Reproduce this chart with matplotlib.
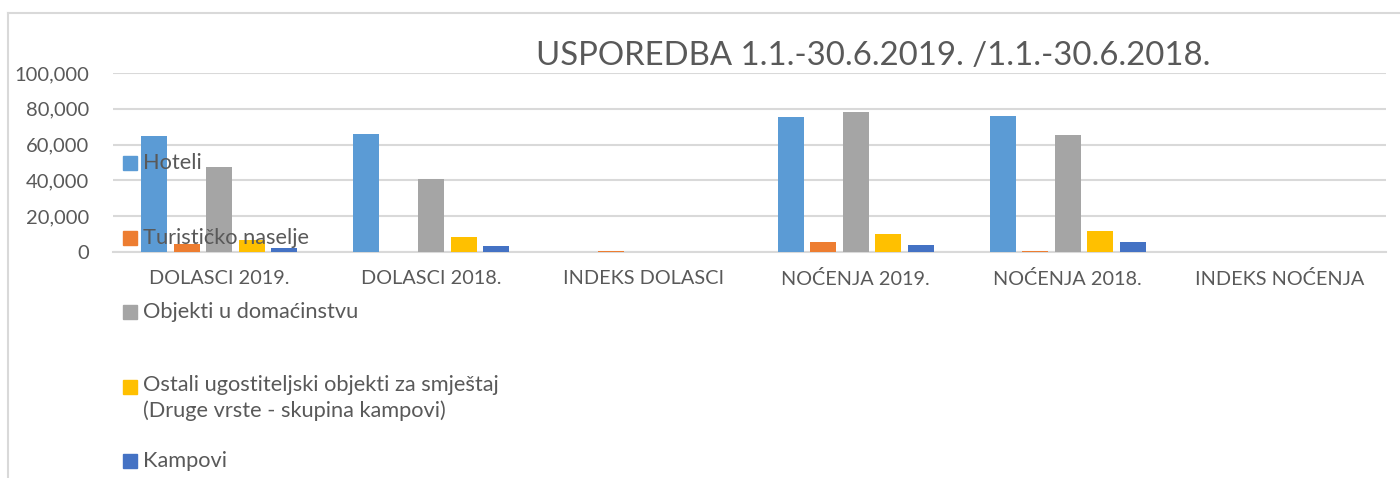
import matplotlib.pyplot as plt
import numpy as np
from matplotlib.lines import Line2D
from matplotlib.patches import Rectangle

categories = ["DOLASCI 2019.", "DOLASCI 2018.", "INDEKS DOLASCI",
              "NOĆENJA 2019.", "NOĆENJA 2018.", "INDEKS NOĆENJA"]
series = ["Hoteli", "Turističko naselje", "Objekti u domaćinstvu",
          "Ostali ugostiteljski objekti za smještaj\n(Druge vrste - skupina kampovi)",
          "Kampovi"]
hoteli = [64800, 66000, 102, 75400, 76000, 99]
turisticko = [4600, 0, 450, 5800, 800, 0]
domacinstvo = [47500, 40800, 116, 78400, 65400, 120]
ostali = [6700, 8500, 79, 9900, 11700, 85]
kampovi = [2200, 3200, 69, 3900, 5600, 70]
values = [hoteli, turisticko, domacinstvo, ostali, kampovi]
colors = ["#5B9BD5", "#ED7D31", "#A5A5A5", "#FFC000", "#4472C4"]

plt.rcParams["font.family"] = ["Lato", "DejaVu Sans"]
text_color = "#595959"
grid_color = "#D9D9D9"

W, H = 1400, 478
fig = plt.figure(figsize=(W / 100, H / 100), dpi=100)
ax = fig.add_axes([113 / W, 1 - 252 / H, 1273 / W, 179 / H])

x = np.arange(len(categories))
step = 0.153
for i, (vals, c) in enumerate(zip(values, colors)):
    ax.bar(x + (i - 2) * step, vals, width=0.1225, color=c, zorder=3)

ax.set_xlim(-0.5, len(categories) - 0.5)
ax.set_ylim(0, 100000)
ax.set_yticks(range(0, 100001, 20000))
ax.yaxis.set_major_formatter(plt.FuncFormatter(lambda v, p: f"{int(v):,}"))
ax.set_xticks(x)
ax.set_xticklabels(categories)
ax.tick_params(axis="y", length=0, pad=17, labelsize=14.5, labelcolor=text_color)
ax.tick_params(axis="x", length=0, pad=13, labelsize=14.3, labelcolor=text_color)
ax.grid(axis="y", color=grid_color, linewidth=1.5, zorder=0)
for s in ["top", "right", "left"]:
    ax.spines[s].set_visible(False)
ax.spines["bottom"].set_color(grid_color)
ax.spines["bottom"].set_linewidth(1.5)

fig.text(873 / W, 1 - 56 / H, "USPOREDBA 1.1.-30.6.2019. /1.1.-30.6.2018.",
         ha="center", va="center", fontsize=23.7, color=text_color)

# legend on the left, drawn the way Excel lays it out
legend_y = [163, 238, 312, 387, 461]
for lab, c, yy in zip(series, colors, legend_y):
    fig.add_artist(Rectangle((123 / W, 1 - (yy + 7) / H), 14 / W, 14 / H,
                             transform=fig.transFigure, color=c))
    if "\n" in lab:
        fig.text(143 / W, 1 - (yy - 12) / H, lab, ha="left", va="top",
                 fontsize=15.7, color=text_color, linespacing=1.3)
    else:
        fig.text(143 / W, 1 - yy / H, lab, ha="left", va="center",
                 fontsize=15.7, color=text_color)

# chart frame
fig.add_artist(Line2D([8 / W, 8 / W], [0, 1 - 13 / H], color=grid_color, linewidth=1.5))
fig.add_artist(Line2D([8 / W, 1], [1 - 13 / H, 1 - 13 / H], color=grid_color, linewidth=1.5))

fig.savefig("out.png", dpi=100, facecolor="white")
